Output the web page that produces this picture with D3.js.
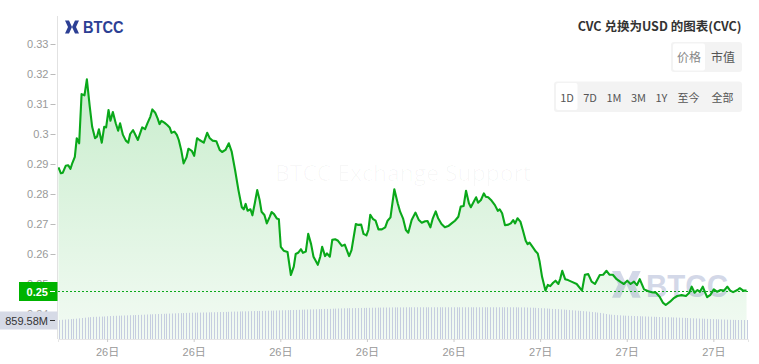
<!DOCTYPE html>
<html>
<head>
<meta charset="utf-8">
<script src="https://cdn.jsdelivr.net/npm/d3@7/dist/d3.min.js"></script>
<style>
  html, body { margin: 0; padding: 0; background: #fff; }
  svg { display: block; font-family: "Liberation Sans", Arial, "Noto Sans CJK SC", sans-serif; }
</style>
</head>
<body>
<svg id="chart" width="759" height="364"></svg>
<script>
// ---------- DATA ----------
const chartTitle = "CVC 兑换为USD 的图表(CVC)";
const metricButtons = ["价格", "市值"];
const rangeButtons = ["1D", "7D", "1M", "3M", "1Y", "至今", "全部"];
const yTickValues = [0.24, 0.25, 0.26, 0.27, 0.28, 0.29, 0.30, 0.31, 0.32, 0.33];
const domainMinutes = [438, 1872]; // minutes after 26日 00:00
// minutes after 26日 00:00 for each sample
const sampleMinutes = [
  439,444,448,454,459,464,468,473,477,482,
  487,493,498,504,509,515,519,523,529,534,
  538,543,547,552,558,563,567,573,579,584,
  588,594,598,604,609,613,619,624,630,634,
  640,645,649,653,659,665,670,674,680,685,
  689,694,699,705,709,716,721,727,732,741,
  748,753,759,767,774,779,786,793,799,806,
  813,820,824,828,832,838,842,847,852,857,
  861,867,872,878,882,887,893,897,901,907,
  915,922,928,932,937,943,947,953,958,964,
  969,978,983,987,993,997,1003,1008,1014,1020,
  1028,1034,1043,1048,1057,1062,1068,1073,1079,1083,
  1087,1093,1098,1104,1111,1118,1123,1129,1137,1144,
  1149,1155,1161,1166,1173,1181,1188,1194,1201,1206,
  1212,1217,1223,1228,1235,1242,1249,1256,1263,1270,
  1275,1281,1286,1292,1296,1302,1307,1311,1317,1323,
  1327,1332,1339,1346,1352,1356,1361,1367,1374,1379,
  1384,1388,1393,1399,1404,1410,1414,1418,1425,1431,
  1435,1439,1444,1451,1456,1461,1467,1472,1478,1482,
  1486,1492,1498,1505,1516,1527,1533,1540,1547,1554,
  1564,1571,1578,1584,1591,1599,1607,1614,1621,1628,
  1635,1641,1647,1656,1665,1674,1681,1688,1695,1701,
  1710,1717,1725,1734,1743,1750,1755,1761,1767,1772,
  1778,1783,1787,1794,1801,1808,1815,1822,1829,1835,
  1841,1850,1855,1862,1869
];
// CVC price in USD
const prices = [
  0.2889,0.2869,0.2871,0.2894,0.2896,0.2884,0.2904,0.2924,0.2986,0.2969,
  0.3133,0.3129,0.3182,0.3091,0.3024,0.2986,0.2991,0.3016,0.2971,0.3024,
  0.3022,0.3080,0.3044,0.3073,0.3036,0.3011,0.3036,0.2997,0.2978,0.2971,
  0.3000,0.3013,0.3000,0.2980,0.3004,0.3022,0.3016,0.3036,0.3058,0.3082,
  0.3071,0.3052,0.3033,0.3044,0.3038,0.3030,0.3022,0.3004,0.3008,0.2997,
  0.2980,0.2947,0.2902,0.2922,0.2951,0.2944,0.2927,0.2986,0.2980,0.2971,
  0.3004,0.2987,0.2978,0.2976,0.2947,0.2940,0.2947,0.2969,0.2941,0.2880,
  0.2813,0.2756,0.2749,0.2767,0.2744,0.2749,0.2729,0.2769,0.2813,0.2780,
  0.2741,0.2730,0.2702,0.2724,0.2740,0.2733,0.2718,0.2716,0.2624,0.2611,
  0.2607,0.2530,0.2558,0.2600,0.2604,0.2616,0.2604,0.2608,0.2667,0.2633,
  0.2591,0.2564,0.2591,0.2624,0.2593,0.2602,0.2591,0.2647,0.2649,0.2644,
  0.2627,0.2631,0.2593,0.2613,0.2700,0.2697,0.2698,0.2667,0.2662,0.2680,
  0.2731,0.2716,0.2711,0.2682,0.2682,0.2689,0.2711,0.2722,0.2816,0.2769,
  0.2741,0.2719,0.2680,0.2671,0.2713,0.2738,0.2713,0.2704,0.2709,0.2710,
  0.2689,0.2719,0.2742,0.2719,0.2700,0.2689,0.2693,0.2702,0.2711,0.2724,
  0.2758,0.2760,0.2811,0.2769,0.2756,0.2774,0.2789,0.2771,0.2780,0.2802,
  0.2791,0.2789,0.2778,0.2763,0.2744,0.2749,0.2736,0.2696,0.2698,0.2702,
  0.2713,0.2702,0.2719,0.2708,0.2680,0.2644,0.2633,0.2638,0.2622,0.2608,
  0.2602,0.2574,0.2524,0.2478,0.2497,0.2493,0.2504,0.2511,0.2500,0.2519,
  0.2544,0.2516,0.2513,0.2508,0.2500,0.2478,0.2531,0.2533,0.2508,0.2500,
  0.2530,0.2531,0.2544,0.2531,0.2531,0.2516,0.2507,0.2500,0.2511,0.2500,
  0.2508,0.2496,0.2516,0.2482,0.2476,0.2472,0.2471,0.2458,0.2438,0.2430,
  0.2441,0.2452,0.2460,0.2463,0.2460,0.2471,0.2491,0.2471,0.2480,0.2474,
  0.2491,0.2471,0.2456,0.2464,0.2482,0.2474,0.2480,0.2478,0.2491,0.2478,
  0.2473,0.2480,0.2486,0.2478,0.2478
];
// 24h volume, millions USD
const volumes = [
  860,870,880,890,900,910,920,935,950,965,
  980,990,1000,1005,1010,1015,1020,1030,1040,1045,
  1050,1055,1060,1065,1070,1075,1080,1085,1090,1095,
  1100,1110,1115,1120,1125,1130,1135,1140,1145,1150,
  1155,1160,1165,1170,1175,1180,1185,1190,1190,1195,
  1195,1200,1200,1205,1210,1210,1215,1220,1220,1225,
  1230,1235,1240,1240,1245,1250,1250,1255,1260,1265,
  1265,1270,1270,1275,1280,1280,1285,1290,1295,1300,
  1300,1305,1310,1310,1315,1320,1325,1330,1335,1340,
  1340,1345,1350,1355,1360,1360,1365,1370,1375,1380,
  1385,1390,1390,1395,1395,1400,1400,1405,1405,1410,
  1410,1415,1415,1420,1420,1425,1425,1425,1430,1430,
  1430,1430,1430,1435,1435,1435,1435,1435,1435,1435,
  1435,1435,1435,1435,1435,1435,1435,1435,1435,1435,
  1435,1435,1435,1435,1435,1435,1435,1435,1435,1435,
  1435,1435,1435,1435,1435,1435,1435,1435,1435,1435,
  1435,1435,1435,1430,1430,1430,1425,1420,1415,1410,
  1400,1395,1390,1380,1370,1360,1355,1350,1340,1330,
  1320,1310,1300,1290,1280,1270,1260,1250,1235,1220,
  1210,1195,1180,1160,1130,1110,1100,1090,1080,1070,
  1060,1055,1050,1045,1040,1035,1030,1025,1020,1015,
  1010,1005,1000,995,990,985,985,980,975,970,
  965,960,955,950,940,935,930,925,920,915,
  910,905,900,895,890,885,880,875,870,865,
  862,860,860,860,859.58
];

// ---------- SETUP ----------
const svg = d3.select("#chart");
const plot = { left: 58, right: 748, top: 16, bottom: 339 };
const baseDay = new Date(2024, 9, 26, 0, 0, 0);
const toDate = m => new Date(baseDay.getTime() + m * 60000);

const data = sampleMinutes.map((m, i) => ({ t: toDate(m), p: prices[i], v: volumes[i] }));

const x = d3.scaleTime().domain(domainMinutes.map(toDate)).range([plot.left, plot.right]);
const y = d3.scaleLinear().domain([0.24, 0.33]).range([314, 44]);
const xBand = d3.scaleBand().domain(d3.range(volumes.length)).range([plot.left, plot.right]);
const yVol = d3.scaleLinear().domain([0, 1000]).range([plot.bottom, plot.bottom - 19 / 859.58 * 1000]);

const defs = svg.append("defs");
const grad = defs.append("linearGradient").attr("id", "areaGrad")
  .attr("gradientUnits", "userSpaceOnUse").attr("x1", 0).attr("x2", 0).attr("y1", 70).attr("y2", plot.bottom);
grad.append("stop").attr("offset", 0).attr("stop-color", "rgb(0,170,20)").attr("stop-opacity", 0.22);
grad.append("stop").attr("offset", 1).attr("stop-color", "rgb(0,170,20)").attr("stop-opacity", 0.05);

// ---------- BTCC logo (top-left) ----------
function drawLogoIcon(g, s, color) {
  g.append("path")
    .attr("d", `M0,0 H${4*s} L${7*s},${6.5*s} L${4*s},${13*s} H0 L${3*s},${6.5*s} Z`)
    .attr("fill", color);
  g.append("path")
    .attr("d", `M${14*s},0 H${10*s} L${7*s},${6.5*s} L${10*s},${13*s} H${14*s} L${11*s},${6.5*s} Z`)
    .attr("fill", color);
}
const logo = svg.append("g").attr("transform", "translate(65,20.5)");
drawLogoIcon(logo, 1, "#2c3f94");
svg.append("text").attr("x", 83).attr("y", 33.3)
  .attr("font-size", 16.5).attr("font-weight", 700).attr("fill", "#2c3f94")
  .attr("textLength", 40.5).attr("lengthAdjust", "spacingAndGlyphs")
  .text("BTCC");

// ---------- watermark ----------
svg.append("text").attr("x", 403).attr("y", 181)
  .attr("text-anchor", "middle").attr("font-size", 22.5)
  .attr("font-family", "'Open Sans', 'Noto Sans', sans-serif")
  .attr("fill", "#000").attr("fill-opacity", 0.03)
  .attr("textLength", 256).attr("lengthAdjust", "spacingAndGlyphs")
  .text("BTCC Exchange Support");

// ---------- area + volume ----------
const area = d3.area().x(d => x(d.t)).y0(plot.bottom).y1(d => y(d.p));
svg.append("path").datum(data).attr("d", area).attr("fill", "url(#areaGrad)");

svg.append("g").selectAll("line").data(volumes).join("line")
  .attr("x1", (d, i) => Math.round(xBand(i) + xBand.bandwidth() / 2) + 0.5)
  .attr("x2", (d, i) => Math.round(xBand(i) + xBand.bandwidth() / 2) + 0.5)
  .attr("y1", plot.bottom)
  .attr("y2", d => yVol(d))
  .attr("stroke", "#c6cde0").attr("stroke-width", 1);

const wm = svg.append("g").attr("opacity", 0.26);
const wmIcon = wm.append("g").attr("transform", "translate(612,271)");
drawLogoIcon(wmIcon, 2.05, "#5a6aa8");
wm.append("text").attr("x", 646).attr("y", 297)
  .attr("font-size", 32).attr("font-weight", 700).attr("fill", "#5a6aa8")
  .attr("textLength", 82).attr("lengthAdjust", "spacingAndGlyphs")
  .text("BTCC");

// ---------- price line ----------
const line = d3.line().x(d => x(d.t)).y(d => y(d.p));
svg.append("path").datum(data).attr("d", line)
  .attr("fill", "none").attr("stroke", "#0aa81a").attr("stroke-width", 2.1)
  .attr("stroke-linejoin", "round");

// ---------- axes ----------
const yAxis = d3.axisLeft(y).tickValues(yTickValues).tickSize(5).tickPadding(2)
  .tickFormat(d => String(+d.toFixed(2)));
const gy = svg.append("g").attr("transform", "translate(55.5,0)").call(yAxis);
gy.select(".domain").remove();
gy.selectAll(".tick line").attr("stroke", "#bbb");
gy.selectAll(".tick text").attr("fill", "#999").attr("font-size", 11)
  .attr("font-family", "'Liberation Sans', Arial, sans-serif");

svg.append("line").attr("x1", 57.5).attr("x2", 57.5).attr("y1", plot.top).attr("y2", plot.bottom)
  .attr("stroke", "#e2e2e2");

const xAxis = d3.axisBottom(x).ticks(d3.timeHour.every(3)).tickSize(3).tickPadding(6)
  .tickFormat(d3.timeFormat("%d日"));
const gx = svg.append("g").attr("transform", `translate(0,${plot.bottom})`).call(xAxis);
gx.select(".domain").attr("stroke", "#e6e6e6");
gx.selectAll(".tick line").attr("stroke", "#ccc");
gx.selectAll(".tick text").attr("fill", "#999").attr("font-size", 11)
  .attr("font-family", "'Liberation Sans', Arial, 'Noto Sans CJK SC', sans-serif");

// ---------- current price marker ----------
const last = data[data.length - 1];
const yLast = Math.round(y(last.p)) + 0.5;
svg.append("line").attr("x1", plot.left).attr("x2", plot.right).attr("y1", yLast).attr("y2", yLast)
  .attr("stroke", "#0aa81a").attr("stroke-width", 1).attr("stroke-dasharray", "2,2");
svg.append("rect").attr("x", 19).attr("y", yLast - 9.5).attr("width", 38.5).attr("height", 19)
  .attr("fill", "#00b300");
svg.append("text").attr("x", 48).attr("y", yLast + 4).attr("text-anchor", "end")
  .attr("font-size", 11).attr("font-weight", 700).attr("fill", "#fff")
  .text(last.p.toFixed(2));
svg.append("line").attr("x1", 50).attr("x2", 55).attr("y1", yLast).attr("y2", yLast).attr("stroke", "#fff");

// ---------- current volume marker ----------
const yVolLast = Math.round(yVol(last.v)) + 0.5;
svg.append("rect").attr("x", 0).attr("y", yVolLast - 9).attr("width", 57.5).attr("height", 18)
  .attr("fill", "#d6dae6");
svg.append("text").attr("x", 48).attr("y", yVolLast + 4).attr("text-anchor", "end")
  .attr("font-size", 11).attr("fill", "#333")
  .text(d3.format(".2f")(last.v) + "M");
svg.append("line").attr("x1", 50).attr("x2", 55).attr("y1", yVolLast).attr("y2", yVolLast).attr("stroke", "#333");

// ---------- title & buttons ----------
svg.append("text").attr("x", 741.5).attr("y", 31).attr("text-anchor", "end")
  .attr("font-family", "'Noto Sans CJK SC', sans-serif")
  .attr("font-size", 12.5).attr("font-weight", 700).attr("fill", "#333")
  .text(chartTitle);

const metricG = svg.append("g").attr("font-family", "'Noto Sans CJK SC', sans-serif");
metricG.append("rect").attr("x", 671).attr("y", 42).attr("width", 71).attr("height", 30).attr("rx", 3).attr("fill", "#f3f3f3");
metricG.append("rect").attr("x", 673).attr("y", 43.5).attr("width", 32).attr("height", 27).attr("rx", 2).attr("fill", "#fff");
const metricX = [689, 723];
metricG.selectAll("text.m").data(metricButtons).join("text")
  .attr("x", (d, i) => metricX[i]).attr("y", 61.5).attr("text-anchor", "middle")
  .attr("font-size", 12).attr("fill", (d, i) => i === 0 ? "#888" : "#555")
  .text(d => d);

const rangeG = svg.append("g").attr("font-family", "'Noto Sans CJK SC', sans-serif");
rangeG.append("rect").attr("x", 554).attr("y", 81.5).attr("width", 188).attr("height", 30.5).attr("rx", 3).attr("fill", "#f3f3f3");
rangeG.append("rect").attr("x", 556).attr("y", 83).attr("width", 21.5).attr("height", 27).attr("rx", 2).attr("fill", "#fff");
const rangeX = [567, 590, 614, 638.5, 661.5, 688.5, 722.5];
rangeG.selectAll("text.r").data(rangeButtons).join("text")
  .attr("x", (d, i) => rangeX[i]).attr("y", 102).attr("text-anchor", "middle")
  .attr("font-size", 11).attr("fill", "#555")
  .text(d => d);
</script>
</body>
</html>
